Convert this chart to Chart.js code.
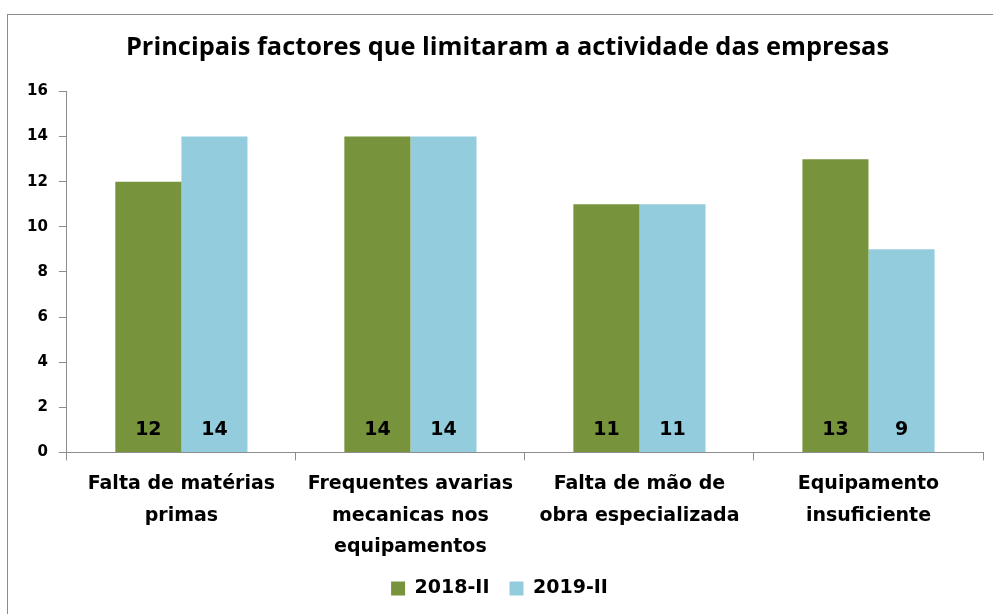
<!DOCTYPE html>
<html>
<head>
<meta charset="utf-8">
<script src="https://cdn.jsdelivr.net/npm/chart.js@4/dist/chart.umd.min.js"></script>
<style>
html,body{margin:0;padding:0;background:#fff;width:993px;height:614px;overflow:hidden;}
#frame{position:absolute;left:7px;top:14px;width:1010px;height:640px;border:1px solid #8c8c8c;box-sizing:border-box;}
#wrap{position:absolute;left:0;top:0;width:993px;height:614px;}
</style>
</head>
<body>
<div id="frame"></div>
<div id="wrap"><canvas id="c" width="993" height="614"></canvas></div>
<script>
const categories = [
  ["Falta de matérias", "primas"],
  ["Frequentes avarias", "mecanicas nos", "equipamentos"],
  ["Falta de mão de", "obra especializada"],
  ["Equipamento", "insuficiente"]
];
const series2018 = [12, 14, 11, 13];
const series2019 = [14, 14, 11, 9];
const yTicks = [0, 2, 4, 6, 8, 10, 12, 14, 16];

const barLabels = {
  id: 'barLabels',
  afterLayout(chart) {
    if (chart.titleBlock) { chart.titleBlock.left += 16; }
  },
  afterDatasetsDraw(chart) {
    const ctx = chart.ctx;
    const yScale = chart.scales.y;
    const base = yScale.getPixelForValue(0);
    ctx.save();
    ctx.font = 'bold 19px "DejaVu Sans", Verdana, sans-serif';
    ctx.fillStyle = '#000';
    ctx.textAlign = 'center';
    ctx.textBaseline = 'middle';
    chart.data.datasets.forEach((ds, i) => {
      const meta = chart.getDatasetMeta(i);
      meta.data.forEach((el, j) => {
        ctx.fillText(String(ds.data[j]), el.x, base - 22);
      });
    });
    ctx.restore();
  }
};

new Chart(document.getElementById('c'), {
  type: 'bar',
  data: {
    labels: categories,
    datasets: [
      { label: '2018-II', data: series2018, backgroundColor: '#77933C', borderWidth: 0 },
      { label: '2019-II', data: series2019, backgroundColor: '#93CDDD', borderWidth: 0 }
    ]
  },
  options: {
    responsive: false,
    animation: false,
    layout: { padding: { left: 16, right: 10, top: 33, bottom: 6 } },
    datasets: { bar: { barPercentage: 1.0, categoryPercentage: 0.577 } },
    plugins: {
      title: {
        display: true,
        text: 'Principais factores que limitaram a actividade das empresas',
        color: '#000',
        font: { family: '"Open Sans", sans-serif', size: 25.4, weight: 'bold', lineHeight: 1.2 },
        padding: { top: 0, bottom: 28 }
      },
      legend: {
        position: 'bottom',
        labels: {
          color: '#000',
          font: { family: '"DejaVu Sans", Verdana, sans-serif', size: 19, weight: 'bold', lineHeight: 1.0 },
          boxWidth: 14, boxHeight: 14, padding: 20
        }
      },
      tooltip: { enabled: false }
    },
    scales: {
      x: {
        afterFit(scale) { scale.height -= 12; },
        grid: { display: true, drawOnChartArea: false, offset: true, color: '#8c8c8c', tickLength: 8 },
        border: { color: '#8c8c8c' },
        ticks: {
          color: '#000',
          maxRotation: 0,
          autoSkip: false,
          font: { family: '"DejaVu Sans", Verdana, sans-serif', size: 19, weight: 'bold', lineHeight: 1.66 },
          padding: 8
        }
      },
      y: {
        min: 0, max: 16,
        afterBuildTicks(axis) { axis.ticks = yTicks.map(v => ({ value: v })); },
        grid: { display: true, drawOnChartArea: false, color: '#8c8c8c', tickLength: 8 },
        border: { color: '#8c8c8c' },
        ticks: {
          color: '#000',
          font: { family: '"DejaVu Sans", Verdana, sans-serif', size: 15, weight: 'bold' },
          padding: 11
        }
      }
    }
  },
  plugins: [barLabels]
});
</script>
</body>
</html>
